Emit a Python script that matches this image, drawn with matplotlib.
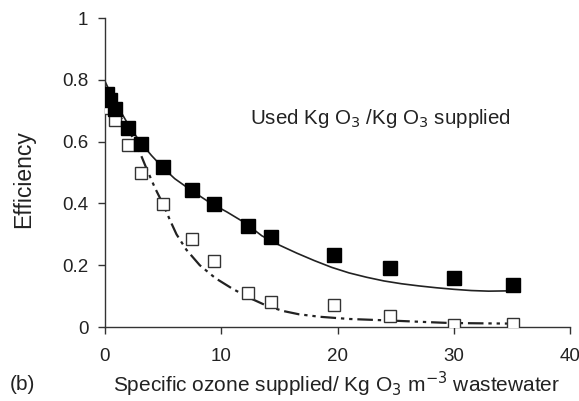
import matplotlib
matplotlib.use("Agg")
import matplotlib.pyplot as plt

plt.rcParams['font.family'] = ['Liberation Sans', 'DejaVu Sans']

# Measured data (filled = used/supplied efficiency, open = second series)
x_filled = [0.2, 0.45, 0.9, 2.0, 3.1, 5.0, 7.5, 9.4, 12.3, 14.3, 19.7, 24.5, 30.0, 35.1]
y_filled = [0.755, 0.735, 0.705, 0.645, 0.592, 0.517, 0.442, 0.397, 0.327, 0.292, 0.233, 0.192, 0.160, 0.135]

x_open = [0.15, 0.9, 2.0, 3.1, 5.0, 7.5, 9.4, 12.3, 14.3, 19.7, 24.5, 30.0, 35.1]
y_open = [0.709, 0.671, 0.588, 0.500, 0.397, 0.286, 0.213, 0.110, 0.081, 0.071, 0.035, 0.006, 0.011]

# Fitted curves
x_fit_solid = [0.0, 0.5, 1.0, 2.0, 3.0, 4.0, 5.0, 6.0, 7.5, 9.0, 10.5, 12.0, 13.5, 15.0,
               16.5, 18.0, 19.5, 21.0, 22.5, 24.0, 25.5, 27.0, 28.5, 30.0, 31.5, 33.0, 34.8]
y_fit_solid = [0.795, 0.755, 0.72, 0.655, 0.600, 0.555, 0.515, 0.480, 0.440, 0.403, 0.372,
               0.338, 0.295, 0.265, 0.239, 0.215, 0.193, 0.175, 0.161, 0.149, 0.140, 0.133,
               0.127, 0.122, 0.118, 0.116, 0.117]

x_fit_dash = [0.0, 1.0, 2.0, 2.4, 3.0, 3.6, 4.3, 5.0, 5.6, 6.15, 7.0, 8.15, 9.5, 11.0, 12.5,
              13.9, 15.3, 16.7, 18.5, 21.0, 24.5, 27.0, 29.6, 32.0, 35.0]
y_fit_dash = [0.760, 0.700, 0.640, 0.612, 0.565, 0.510, 0.450, 0.397, 0.345, 0.300, 0.250,
              0.200, 0.158, 0.123, 0.093, 0.069, 0.052, 0.041, 0.033, 0.026, 0.021, 0.017,
              0.013, 0.012, 0.011]

x_ticks = [0, 10, 20, 30, 40]
y_ticks = [0, 0.2, 0.4, 0.6, 0.8, 1.0]
y_ticklabels = ['0', '0.2', '0.4', '0.6', '0.8', '1']

fig = plt.figure(figsize=(5.79, 4.01), dpi=100)
ax = fig.add_axes([105/579, 74/401, 465/579, 309/401])

ax.plot(x_fit_solid, y_fit_solid, color='#222222', lw=1.2, zorder=2)
ax.plot(x_fit_dash, y_fit_dash, color='#222222', lw=1.6,
        linestyle=(0, (7, 2.2, 1.5, 2.2, 1.5, 2.2)), zorder=2)
ax.plot(x_open, y_open, linestyle='none', marker='s', markersize=9,
        markerfacecolor='white', markeredgecolor='#333333', markeredgewidth=1.0, zorder=3)
ax.plot(x_filled, y_filled, linestyle='none', marker='s', markersize=10,
        markerfacecolor='black', markeredgecolor='black', zorder=4)

ax.set_xlim(0, 40)
ax.set_ylim(0, 1)
ax.set_xticks(x_ticks)
ax.set_yticks(y_ticks)
ax.set_yticklabels(y_ticklabels)
for s in ['top', 'right']:
    ax.spines[s].set_visible(False)
for s in ['left', 'bottom']:
    ax.spines[s].set_color('#333333')
    ax.spines[s].set_linewidth(1.0)
ax.tick_params(axis='both', direction='out', length=5, width=1.0, color='#333333',
               labelsize=13.5, labelcolor='#222222')
ax.tick_params(axis='y', pad=7)
ax.tick_params(axis='x', pad=10)

fig.text(24/579, 1 - 179/401, 'Efficiency', rotation=90, ha='center', va='center',
         fontsize=16.5, color='#222222')
fig.text(337/579, 1 - 384/401, 'Specific ozone supplied/ Kg O$_3$ m$^{-3}$ wastewater',
         ha='center', va='center', fontsize=15, color='#222222')
fig.text(10/579, 1 - 384/401, '(b)', ha='left', va='center', fontsize=15, color='#222222')
ax.text(12.5, 0.676, 'Used Kg O$_3$ /Kg O$_3$ supplied', ha='left', va='center',
        fontsize=14.8, color='#222222')

fig.savefig('out.png', dpi=100)
